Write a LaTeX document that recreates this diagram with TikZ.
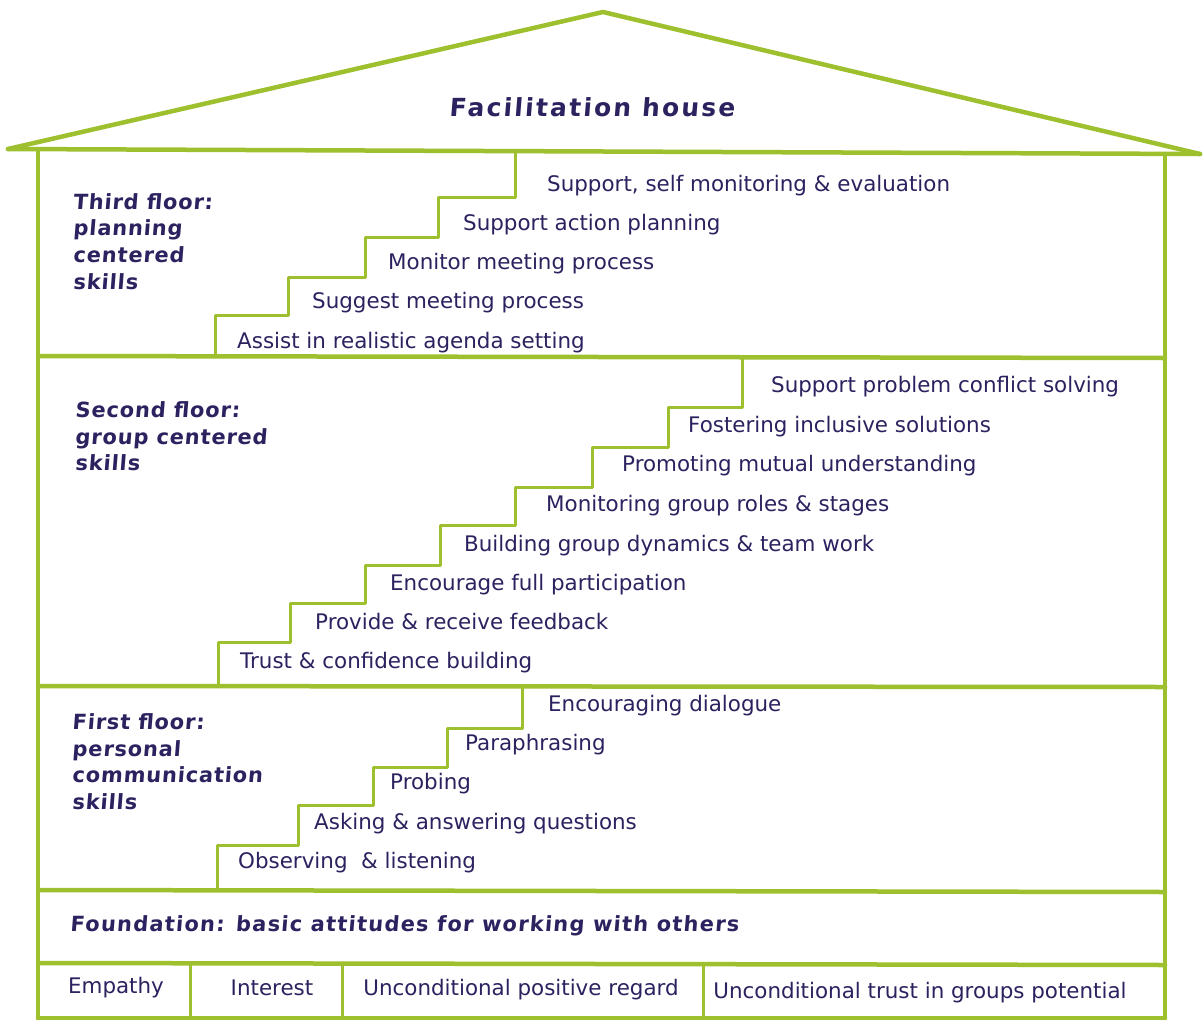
\documentclass[tikz,border=0pt]{standalone}
\usepackage{fontspec}
\setmainfont{DejaVu Sans}
\newfontfamily\hand[FakeSlant=0.08,LetterSpace=4]{DejaVu Sans Bold}
\newfontfamily\handfnd[FakeSlant=0.08,LetterSpace=6]{DejaVu Sans Bold}
\newfontfamily\handwide[FakeSlant=0.08,LetterSpace=9]{DejaVu Sans Bold}
\definecolor{housegreen}{RGB}{158,192,46}
\definecolor{ink}{RGB}{44,34,96}
\begin{document}
\begin{tikzpicture}[x=1bp,y=-1bp,
  wall/.style={draw=housegreen,line width=4.5bp,line cap=round,line join=round},
  stair/.style={draw=housegreen,line width=3bp,line cap=round,line join=round},
  skill/.style={anchor=mid west,inner sep=0pt,text=ink,font=\fontsize{21.5}{24}\selectfont},
  base/.style={anchor=center,inner sep=0pt,text=ink,font=\fontsize{21.5}{24}\selectfont},
  floorlabel/.style={anchor=north west,inner sep=0pt,text=ink,align=left,font=\hand\fontsize{21}{27}\selectfont},
]
\useasboundingbox (0,0) rectangle (1203,1022);
\fill[white] (0,0) rectangle (1203,1022);
% roof
\draw[wall] (8,149) -- (603,12) -- (1200,154);
\draw[wall] (8,149) -- (1200,154);
% walls
\draw[wall] (38,151) -- (38,1018);
\draw[wall] (1165,154) -- (1165,1018);
% floors
\draw[wall] (38,356) -- (1165,358);
\draw[wall] (38,686) -- (1165,687);
\draw[wall] (38,890) -- (1165,892);
\draw[wall] (38,963) -- (1165,965);
\draw[wall] (38,1018) -- (1165,1018);
% foundation dividers
\draw[stair] (190,964) -- (190,1018);
\draw[stair] (342,964) -- (342,1018);
\draw[stair] (703,964) -- (703,1018);
% stairs third floor
\draw[stair] (215,356) -- (215,315) -- (288,315) -- (288,277) -- (365,277) -- (365,237) -- (438,237) -- (438,197) -- (515,197) -- (515,152);
% stairs second floor
\draw[stair] (218,686) -- (218,642) -- (290,642) -- (290,603) -- (365,603) -- (365,565) -- (440,565) -- (440,525) -- (515,525) -- (515,487) -- (592,487) -- (592,447) -- (668,447) -- (668,407) -- (742,407) -- (742,358);
% stairs first floor
\draw[stair] (217,890) -- (217,845) -- (298,845) -- (298,805) -- (373,805) -- (373,767) -- (447,767) -- (447,728) -- (522,728) -- (522,688);
% title
\node[inner sep=0pt,text=ink,font=\handwide\fontsize{25}{28}\selectfont] (title) at (592,107) {Facilitation house};
% labels
\node[floorlabel] (l3) at (73,193) {Third floor:\\planning\\centered\\skills};
\node[floorlabel] (l2) at (75,401) {Second floor:\\group centered\\skills};
\node[floorlabel] (l1) at (72,713) {First floor:\\personal\\communication\\skills};
\node[anchor=mid west,inner sep=0pt,text=ink,font=\handfnd\fontsize{21}{24}\selectfont] (fnd) at (70,929) {Foundation: basic attitudes for working with others};
% third floor skills
\node[skill] (s35) at (547,189) {Support, self monitoring \& evaluation};
\node[skill] (s34) at (463,228) {Support action planning};
\node[skill] (s33) at (388,267) {Monitor meeting process};
\node[skill] (s32) at (312,306) {Suggest meeting process};
\node[skill] (s31) at (237,346) {Assist in realistic agenda setting};
% second floor skills
\node[skill] (s28) at (771,390) {Support problem conflict solving};
\node[skill] (s27) at (688,430) {Fostering inclusive solutions};
\node[skill] (s26) at (622,469) {Promoting mutual understanding};
\node[skill] (s25) at (546,509) {Monitoring group roles \& stages};
\node[skill] (s24) at (464,549) {Building group dynamics \& team work};
\node[skill] (s23) at (390,588) {Encourage full participation};
\node[skill] (s22) at (315,627) {Provide \& receive feedback};
\node[skill] (s21) at (240,666) {Trust \& confidence building};
% first floor skills
\node[skill] (s15) at (548,709) {Encouraging dialogue};
\node[skill] (s14) at (465,748) {Paraphrasing};
\node[skill] (s13) at (390,787) {Probing};
\node[skill] (s12) at (314,827) {Asking \& answering questions};
\node[skill] (s11) at (238,866) {Observing\ \ \& listening};
% foundation boxes
\node[base] (b1) at (116,988) {Empathy};
\node[base] (b2) at (272,988) {Interest};
\node[base] (b3) at (521,990) {Unconditional positive regard};
\node[base] (b4) at (920,993) {Unconditional trust in groups potential};
\end{tikzpicture}
\end{document}
